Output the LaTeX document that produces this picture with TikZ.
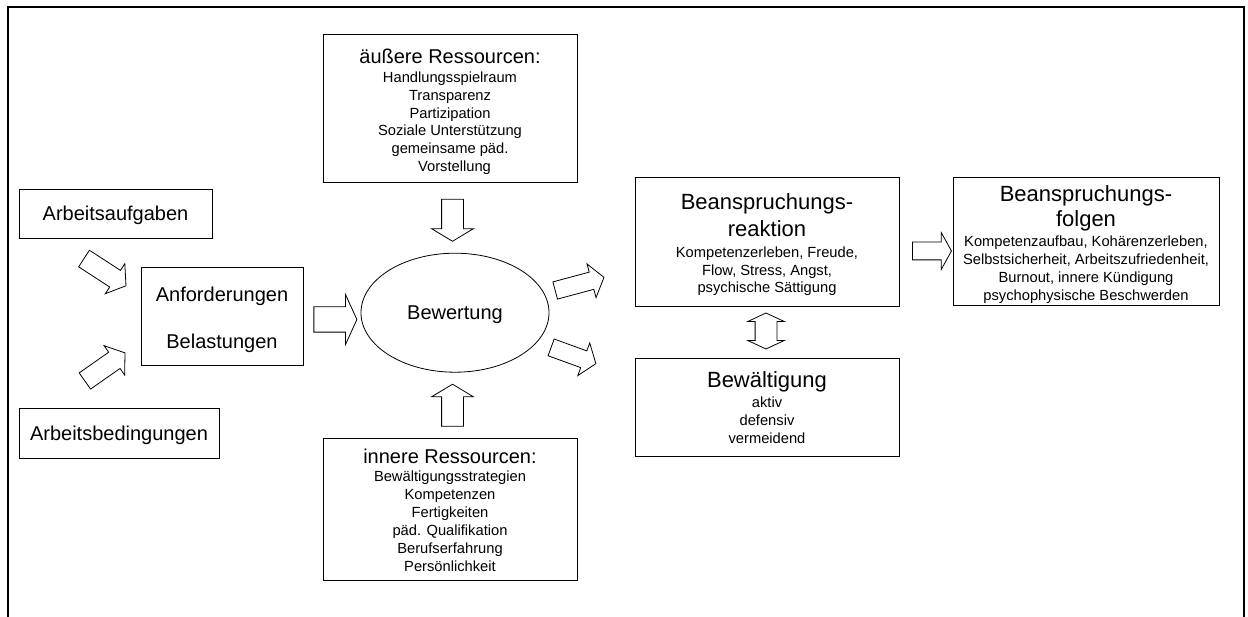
\documentclass[tikz,border=0pt]{standalone}
\usepackage{fontspec}
\setmainfont{Liberation Sans}
\usetikzlibrary{shapes.geometric,shapes.arrows}

\newcommand{\bigtitle}{\fontsize{22}{22}\selectfont}
\newcommand{\midtitle}{\fontsize{20}{20}\selectfont}
\newcommand{\setlines}[1]{\fontsize{14.7}{#1}\selectfont\lineskiplimit=-50pt\relax}
\newcommand{\padtop}[1]{\rule{0pt}{#1}}

\tikzset{
  box/.style={draw, line width=0.8pt, inner sep=0pt, align=center},
  blockarrow/.style={single arrow, draw, line width=0.8pt, inner xsep=0pt},
  twinarrow/.style={double arrow, draw, line width=0.8pt, inner xsep=0pt},
}

\begin{document}
\begin{tikzpicture}[x=1pt, y=-1pt]
\useasboundingbox (0,0) rectangle (1248,617);
% frame, open at the bottom
\draw[line width=2.5pt] (8,617) -- (8,7) -- (1244,7) -- (1244,617);

% left column
\node[box, minimum width=193pt, minimum height=49pt, font=\midtitle, text height=19.2pt, text depth=4.2pt] (aufgaben) at (115.5,213.5) {Arbeitsaufgaben};
\node[box, minimum width=200pt, minimum height=50pt, font=\midtitle, text height=18.6pt, text depth=4.2pt] (bedingungen) at (119,433.5) {Arbeitsbedingungen};
\node[box, minimum width=162pt, minimum height=98pt, font={\fontsize{20}{47.5}\selectfont\lineskiplimit=-50pt}] (anforderungen) at (222,316) {\padtop{22.5pt}Anforderungen\\ Belastungen};

% middle column
\node[box, minimum width=254pt, minimum height=148pt, font={\setlines{17.8}}] (aussen) at (450,108)
  {\padtop{21.6pt}{\midtitle äußere Ressourcen:}\\[1.7pt] Handlungsspielraum\\ Transparenz\\ Partizipation\\ Soziale Unterstützung\\ gemeinsame päd.\\ \hspace*{9pt}Vorstellung};
\node[draw, ellipse, line width=0.8pt, inner sep=0pt, minimum width=188pt, minimum height=119pt, font=\midtitle, text height=17pt, text depth=4.2pt] (bewertung) at (455,312.7) {Bewertung};
\node[box, minimum width=254pt, minimum height=142pt, font={\setlines{18}}] (innen) at (450,509)
  {\padtop{17.3pt}{\midtitle innere Ressourcen:}\\[0.7pt] Bewältigungsstrategien\\ Kompetenzen\\ Fertigkeiten\\ päd. Qualifikation\\ Berufserfahrung\\ Persönlichkeit};

% right column
\node[box, minimum width=264pt, minimum height=129pt, font={\setlines{17.7}}] (reaktion) at (767,241.5)
  {\padtop{22.1pt}{\bigtitle Beanspruchungs-}\\[9.6pt] {\bigtitle reaktion}\\[3pt] Kompetenzerleben, Freude,\\ Flow, Stress, Angst,\\ psychische Sättigung};
\node[box, minimum width=264pt, minimum height=98pt, font={\setlines{17.8}}] (bewaeltigung) at (767,407)
  {\padtop{17pt}{\bigtitle Bewältigung}\\[2.2pt] aktiv\\ defensiv\\ vermeidend};
\node[box, minimum width=266pt, minimum height=128pt, font={\setlines{18}}] (folgen) at (1086,241)
  {\padtop{22.1pt}{\bigtitle Beanspruchungs-}\\[7.7pt] {\bigtitle folgen}\\[1.3pt] Kompetenzaufbau, Kohärenzerleben,\\ Selbstsicherheit, Arbeitszufriedenheit,\\ Burnout, innere Kündigung\\ psychophysische Beschwerden};

% block arrows
\node[blockarrow, minimum height=50pt, inner ysep=9.5pt, single arrow head extend=8pt, single arrow tip angle=108, rotate=-33] (pfeilA) at (102,270.2) {};
\node[blockarrow, minimum height=49pt, inner ysep=9.5pt, single arrow head extend=8pt, single arrow tip angle=108, rotate=35] (pfeilB) at (102,369) {};
\node[blockarrow, minimum height=43pt, inner ysep=12.25pt, single arrow head extend=12.25pt, single arrow tip angle=131] (pfeilC) at (332.5,319.5) {};
\node[blockarrow, minimum height=42pt, inner ysep=10.5pt, single arrow head extend=10pt, single arrow tip angle=118, rotate=-90] (pfeilD) at (452.5,217) {};
\node[blockarrow, minimum height=42pt, inner ysep=10.5pt, single arrow head extend=10pt, single arrow tip angle=118, rotate=90] (pfeilE) at (452.5,408.5) {};
\node[blockarrow, minimum height=50.5pt, inner ysep=8.5pt, single arrow head extend=8.5pt, single arrow tip angle=107, rotate=15] (pfeilF) at (576.4,284.8) {};
\node[blockarrow, minimum height=47.6pt, inner ysep=8.5pt, single arrow head extend=8.5pt, single arrow tip angle=107, rotate=-20] (pfeilG) at (570.4,354.4) {};
\node[blockarrow, minimum height=39pt, inner ysep=8.5pt, single arrow head extend=9.5pt, single arrow tip angle=122] (pfeilH) at (929.5,251) {};
\node[twinarrow, minimum height=36pt, inner ysep=10.5pt, double arrow head extend=7.5pt, double arrow tip angle=130, rotate=90] (pfeilI) at (766,331) {};
\end{tikzpicture}
\end{document}
